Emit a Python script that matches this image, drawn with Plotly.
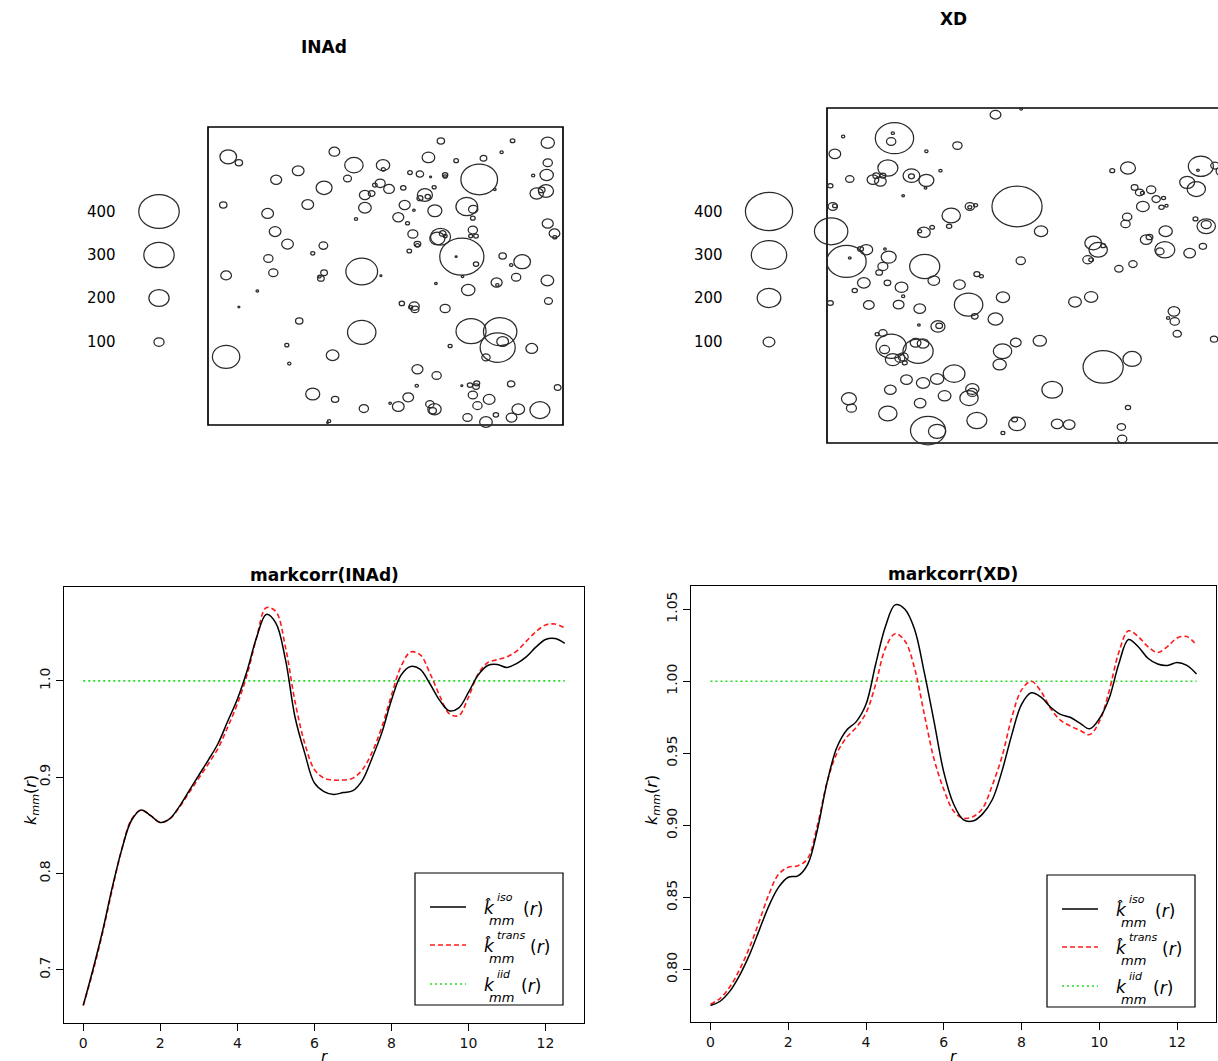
import plotly.graph_objects as go

FIG_W, FIG_H = 1218, 1061

# ---------------------------------------------------------------- data
# distance grid of the mark correlation estimates
r = [0, 0.25, 0.5, 0.75, 1.0, 1.25, 1.5, 1.75, 2.0, 2.25, 2.5, 2.75, 3.0, 3.25, 3.5, 3.75,
     4.0, 4.25, 4.5, 4.75, 5.0, 5.25, 5.5, 5.75, 6.0, 6.25, 6.5, 6.75, 7.0, 7.25, 7.5, 7.75,
     8.0, 8.25, 8.5, 8.75, 9.0, 9.25, 9.5, 9.75, 10.0, 10.25, 10.5, 10.75, 11.0, 11.25, 11.5,
     11.75, 12.0, 12.25, 12.5]

inad_iso = [0.663, 0.700, 0.740, 0.785, 0.825, 0.855, 0.866, 0.860, 0.853, 0.857, 0.870, 0.886, 0.902, 0.918, 0.935, 0.958,
            0.981, 1.010, 1.045, 1.069, 1.060, 1.022, 0.962, 0.925, 0.894, 0.885, 0.882, 0.884, 0.886, 0.897, 0.920, 0.946,
            0.980, 1.006, 1.015, 1.012, 0.997, 0.980, 0.969, 0.972, 0.988, 1.006, 1.016, 1.017, 1.014, 1.018, 1.025,
            1.035, 1.043, 1.044, 1.039]
inad_trans = [0.663, 0.698, 0.738, 0.783, 0.825, 0.856, 0.866, 0.860, 0.853, 0.857, 0.869, 0.884, 0.899, 0.914, 0.930, 0.952,
              0.976, 1.006, 1.045, 1.076, 1.072, 1.035, 0.978, 0.935, 0.908, 0.899, 0.897, 0.897, 0.899, 0.908, 0.926, 0.952,
              0.985, 1.015, 1.030, 1.027, 1.008, 0.985, 0.966, 0.964, 0.983, 1.007, 1.019, 1.022, 1.025, 1.031, 1.041,
              1.051, 1.058, 1.059, 1.055]
xd_iso = [0.775, 0.778, 0.785, 0.796, 0.810, 0.827, 0.844, 0.857, 0.864, 0.865, 0.873, 0.897, 0.930, 0.954, 0.966, 0.972,
          0.984, 1.012, 1.038, 1.053, 1.050, 1.036, 1.006, 0.972, 0.937, 0.915, 0.904, 0.903, 0.908, 0.918, 0.938, 0.963,
          0.984, 0.992, 0.989, 0.982, 0.977, 0.975, 0.971, 0.967, 0.974, 0.988, 1.012, 1.029, 1.024, 1.016, 1.012,
          1.011, 1.013, 1.011, 1.005]
xd_trans = [0.776, 0.780, 0.788, 0.800, 0.815, 0.833, 0.852, 0.866, 0.871, 0.872, 0.877, 0.900, 0.930, 0.950, 0.961, 0.968,
            0.978, 0.998, 1.023, 1.033, 1.028, 1.009, 0.977, 0.946, 0.925, 0.910, 0.905, 0.906, 0.912, 0.928, 0.948, 0.975,
            0.994, 1.000, 0.993, 0.981, 0.973, 0.969, 0.966, 0.963, 0.972, 0.993, 1.020, 1.035, 1.031, 1.024, 1.020,
            1.024, 1.030, 1.031, 1.025]
k_iid = 1.0

# marked point patterns (window is [0,100] x [0,100]); marks scale the circles
inad_x = [5.7, 8.7, 35.6, 65.6, 85.8, 95.7, 82.7, 62.1, 77.6, 69.9, 41.1, 49.3, 49.4, 25.4, 95.7, 95.4, 56.9, 59.7,
          66.8, 66.8, 76.4, 80.8, 19.2, 39.3, 32.7, 48.5, 47.0, 51.0, 55.0, 63.7, 62.7, 92.6, 95.2, 94.0, 91.6, 44.2,
          46.1, 61.1, 59.7, 61.9, 4.3, 28.1, 44.2, 55.4, 63.9, 72.9, 74.7, 16.8, 53.6, 74.6, 41.7, 58.0, 56.2, 95.7,
          97.6, 97.7, 18.9, 57.7, 65.5, 64.6, 66.1, 66.8, 74.6, 75.5, 74.0, 59.0, 59.0, 22.4, 32.5, 56.7, 71.5, 69.9,
          29.5, 17.0, 83.0, 88.5, 75.5, 85.4, 43.3, 48.7, 18.4, 32.7, 31.8, 31.4, 5.1, 86.8, 81.3, 81.5, 95.6, 64.2,
          71.7, 73.3, 13.9, 95.9, 8.7, 54.6, 58.1, 58.3, 57.1, 66.8, 25.7, 43.3, 74.1, 82.3, 81.6, 83.0, 22.2, 68.2,
          91.2, 5.1, 35.1, 78.3, 22.9, 59.0, 64.4, 58.8, 71.5, 73.8, 75.7, 75.5, 74.6, 85.4, 98.5, 29.5, 35.8, 56.4,
          53.6, 51.3, 62.5, 63.8, 63.3, 43.9, 75.9, 79.2, 87.4, 93.5, 73.1, 78.3, 81.1, 85.5, 34.1, 33.7]
inad_y = [90.0, 88.0, 91.7, 95.3, 95.4, 94.7, 91.5, 89.8, 89.5, 88.7, 87.2, 87.2, 85.8, 85.3, 88.0, 83.9, 84.7, 84.2,
          83.9, 83.4, 82.4, 79.0, 82.3, 82.7, 79.6, 81.1, 80.5, 79.2, 79.6, 79.8, 83.2, 77.7, 78.5, 78.9, 83.7, 77.2,
          77.7, 77.2, 76.1, 76.6, 73.8, 74.0, 72.9, 73.8, 71.9, 73.3, 72.4, 71.0, 69.7, 69.4, 69.1, 72.1, 67.7, 67.6,
          64.3, 63.0, 64.9, 64.1, 63.2, 62.6, 64.3, 63.4, 65.4, 63.4, 63.4, 60.7, 60.3, 60.7, 60.2, 58.4, 56.5, 56.5,
          57.6, 55.9, 56.7, 54.8, 54.0, 53.7, 51.5, 50.1, 51.1, 51.1, 49.2, 49.8, 50.2, 49.6, 47.8, 47.0, 48.5, 47.5,
          49.8, 45.3, 45.0, 41.6, 39.6, 40.8, 39.9, 38.8, 39.5, 39.1, 34.9, 31.1, 31.5, 31.3, 26.0, 28.0, 26.8, 26.5,
          25.7, 22.9, 23.4, 22.7, 20.6, 18.7, 16.6, 13.2, 13.2, 13.4, 14.0, 12.9, 10.1, 13.8, 12.6, 10.4, 8.6, 9.3,
          6.2, 7.3, 7.0, 5.3, 4.8, 5.5, 6.5, 8.6, 5.3, 5.0, 2.5, 1.0, 3.4, 2.5, 1.3, 0.8]
inad_m = [165, 73, 106, 73, 46, 132, 33, 125, 66, 46, 182, 132, 40, 116, 92, 132, 46, 73,
          53, 40, 363, 26, 109, 79, 158, 99, 46, 106, 53, 40, 20, 132, 149, 66, 33, 109,
          66, 149, 59, 53, 73, 116, 125, 109, 139, 215, 92, 116, 109, 46, 33, 26, 40, 109,
          106, 40, 116, 99, 198, 149, 66, 40, 92, 46, 40, 66, 40, 116, 86, 46, 436, 20,
          40, 92, 73, 165, 53, 33, 314, 20, 92, 66, 66, 33, 106, 92, 109, 33, 125, 26,
          26, 132, 26, 79, 20, 53, 99, 79, 40, 99, 73, 281, 297, 330, 347, 116, 40, 40,
          116, 271, 125, 83, 33, 109, 92, 33, 20, 53, 59, 66, 92, 73, 66, 139, 73, 106,
          116, 26, 83, 132, 73, 92, 92, 116, 125, 198, 92, 125, 53, 106, 33, 20]

xd_x = [40.7, 46.9, 16.3, 15.5, 15.9, 3.9, 1.9, 24.0, 31.5, 14.7, 11.1, 12.9, 11.9, 13.5, 5.5, 20.4, 20.4, 24.0,
        27.4, 0.8, 23.8, 18.4, 1.4, 1.9, 1.0, 4.7, 5.5, 9.5, 8.1, 14.0, 14.9, 13.5, 12.6, 8.9, 6.7, 14.6,
        18.0, 18.4, 0.8, 10.1, 17.3, 22.4, 23.6, 25.8, 30.0, 29.5, 23.4, 22.4, 25.4, 34.5, 35.9, 34.5, 45.9, 51.7,
        46.8, 32.0, 36.2, 37.3, 42.5, 34.2, 35.7, 40.7, 26.8, 27.1, 22.2, 13.5, 15.5, 22.0, 21.4, 23.2, 13.9, 18.4,
        17.6, 18.8, 15.9, 12.1, 19.2, 23.2, 26.6, 30.7, 15.3, 28.4, 22.5, 35.1, 34.3, 35.1, 5.3, 5.9, 14.7, 36.2,
        24.4, 26.6, 42.5, 45.9, 45.3, 55.6, 58.5, 42.4, 45.6, 41.7, 51.4, 54.4, 66.7, 73.7, 72.7, 71.1, 71.3, 59.9,
        63.8, 83.8, 84.0, 82.4, 84.6, 93.5, 64.3, 65.5, 66.7, 63.0, 63.8, 70.5, 73.9, 68.9, 72.7, 74.3, 75.5, 78.3,
        76.2, 79.5, 81.3, 76.3, 80.8, 82.0, 72.5, 72.1, 81.8, 77.1, 77.9, 81.6, 80.4, 87.6, 90.8, 87.0, 89.2, 90.3,
        89.6, 93.7, 91.6, 91.6, 89.0, 95.2]
xd_y = [98.0, 99.7, 91.0, 90.0, 92.5, 91.5, 86.3, 87.1, 88.8, 82.1, 78.6, 78.1, 79.8, 79.8, 78.8, 79.8, 79.6, 78.4,
        81.3, 76.8, 76.1, 73.8, 70.6, 70.8, 63.2, 54.2, 55.2, 57.7, 57.9, 57.9, 55.5, 52.7, 50.9, 47.8, 45.5, 47.8,
        46.5, 43.8, 41.8, 41.2, 41.3, 40.1, 52.7, 48.5, 67.9, 64.7, 62.9, 63.2, 64.4, 70.6, 71.0, 70.4, 70.6, 63.2,
        54.4, 47.3, 50.4, 49.8, 43.5, 41.3, 37.8, 37.0, 34.8, 35.0, 35.2, 32.8, 28.9, 27.4, 29.9, 29.7, 27.9, 25.7,
        25.3, 23.9, 24.9, 32.5, 18.9, 17.9, 19.1, 20.7, 15.9, 14.1, 11.9, 16.1, 13.4, 15.1, 13.2, 10.4, 8.8, 6.7,
        3.7, 3.5, 3.0, 5.7, 7.0, 5.7, 5.5, 27.4, 30.0, 23.4, 30.5, 15.9, 22.7, 25.1, 10.6, 4.8, 1.2, 42.1,
        43.6, 39.3, 36.3, 37.3, 32.6, 31.0, 59.7, 57.7, 58.9, 54.7, 54.7, 52.0, 53.4, 81.3, 82.1, 76.3, 74.8, 75.6,
        74.6, 72.8, 73.1, 70.6, 70.4, 70.8, 67.5, 65.4, 63.2, 60.7, 61.5, 57.7, 57.2, 56.7, 58.7, 77.8, 75.8, 82.6,
        81.4, 82.8, 64.7, 65.2, 66.9, 81.1]
xd_m = [91, 23, 325, 79, 28, 28, 99, 28, 79, 170, 99, 99, 57, 51, 71, 142, 51, 127,
        28, 45, 23, 23, 79, 40, 283, 334, 23, 108, 51, 23, 127, 85, 57, 108, 45, 57,
        108, 28, 51, 91, 91, 99, 255, 99, 156, 45, 108, 34, 40, 79, 34, 34, 425, 113,
        79, 99, 51, 34, 113, 241, 57, 127, 119, 57, 23, 71, 255, 255, 91, 99, 85, 85,
        85, 42, 127, 34, 99, 113, 113, 184, 99, 108, 99, 113, 156, 85, 127, 85, 156, 170,
        297, 147, 34, 142, 51, 99, 99, 156, 91, 113, 113, 175, 340, 156, 45, 71, 79, 108,
        113, 99, 79, 28, 71, 62, 142, 156, 42, 85, 40, 71, 71, 42, 127, 57, 71, 79,
        34, 71, 34, 108, 45, 28, 79, 79, 113, 99, 57, 170, 71, 99, 62, 127, 156, 212,
        23, 71, 156, 85, 42, 85]

legend_marks = [400, 300, 200, 100]

# ---------------------------------------------------------------- helpers
FONT = "DejaVu Sans"
MARK_TO_DIAM = 0.0285       # circle diameter in window units per unit of mark
INK = "#2a2a2a"
RED = "#ff1a1a"
GREEN = "#22dd22"


def fx(p):
    return p / FIG_W


def fy(p):
    return 1 - p / FIG_H


fig = go.Figure()
shapes = []
annotations = []


def text(x, y, s, size=14, xanchor="center", yanchor="middle", angle=0, color="black", bold=False):
    annotations.append(dict(
        x=fx(x), y=fy(y), xref="paper", yref="paper", text=s, showarrow=False,
        xanchor=xanchor, yanchor=yanchor, textangle=angle,
        font=dict(family=FONT, size=size, color=color, weight="bold" if bold else "normal")))


# ---------------------------------------------------------------- point pattern panels
def pattern_panel(ax, xs, ys, ms, frame_left, frame_top, frame_bottom, ux, dom_x, dom_y,
                  key_cx, key_label_x, key_cy):
    uy = (frame_bottom - frame_top) / 100.0
    fig.layout["xaxis" + ax] = dict(domain=[fx(dom_x[0]), fx(dom_x[1])],
                                    range=[(dom_x[0] - frame_left) / ux, (dom_x[1] - frame_left) / ux],
                                    visible=False, anchor="y" + ax, fixedrange=True)
    fig.layout["yaxis" + ax] = dict(domain=[fy(dom_y[1]), fy(dom_y[0])],
                                    range=[(frame_bottom - dom_y[1]) / uy, (frame_bottom - dom_y[0]) / uy],
                                    visible=False, anchor="x" + ax, fixedrange=True)
    fig.add_trace(go.Scatter(x=xs, y=ys, mode="markers", marker=dict(opacity=0, size=1),
                             hoverinfo="skip", showlegend=False, xaxis="x" + ax, yaxis="y" + ax))
    # observation window
    shapes.append(dict(type="rect", xref="x" + ax, yref="y" + ax, x0=0, x1=100, y0=0, y1=100,
                       line=dict(color="black", width=1.7)))
    for x, y, m in zip(xs, ys, ms):
        d = m * MARK_TO_DIAM
        shapes.append(dict(type="circle", xref="x" + ax, yref="y" + ax,
                           x0=x - d / 2, x1=x + d / 2, y0=y - d / 2, y1=y + d / 2,
                           line=dict(color=INK, width=1.25)))
    # mark size key
    kx = (key_cx - frame_left) / ux
    for m, cy in zip(legend_marks, key_cy):
        d = m * MARK_TO_DIAM
        ky = (frame_bottom - cy) / uy
        shapes.append(dict(type="circle", xref="x" + ax, yref="y" + ax,
                           x0=kx - d / 2, x1=kx + d / 2, y0=ky - d / 2, y1=ky + d / 2,
                           line=dict(color=INK, width=1.25)))
        text(key_label_x, cy, str(m), size=15)


key_rows = [211.5, 255, 298, 342]
pattern_panel("3", inad_x, inad_y, inad_m, 208, 127, 425, 3.55, (30, 600), (90, 460),
              159, 101.5, key_rows)
pattern_panel("4", xd_x, xd_y, xd_m, 827, 108, 443, 4.14, (640, 1218), (85, 470),
              769, 708, key_rows)
text(324, 47, "INAd", size=17, bold=True)
text(953, 19, "XD", size=17, bold=True)


# ---------------------------------------------------------------- mark correlation panels
def add_curves(ax, iso, trans):
    fig.add_trace(go.Scatter(x=[r[0], r[-1]], y=[k_iid, k_iid], mode="lines",
                             line=dict(color=GREEN, width=1.6, dash="2px,3px"),
                             showlegend=False, hoverinfo="skip", xaxis="x" + ax, yaxis="y" + ax))
    fig.add_trace(go.Scatter(x=r, y=trans, mode="lines", line_shape="spline",
                             line=dict(color=RED, width=1.6, dash="5px,3px"),
                             showlegend=False, hoverinfo="skip", xaxis="x" + ax, yaxis="y" + ax))
    fig.add_trace(go.Scatter(x=r, y=iso, mode="lines", line_shape="spline",
                             line=dict(color="black", width=1.5),
                             showlegend=False, hoverinfo="skip", xaxis="x" + ax, yaxis="y" + ax))


add_curves("", inad_iso, inad_trans)
add_curves("2", xd_iso, xd_trans)

axis_common = dict(showline=True, mirror=True, linecolor="black", linewidth=1.2,
                   ticks="outside", ticklen=7, tickwidth=1.2, tickcolor="black",
                   showgrid=False, zeroline=False, fixedrange=True,
                   tickfont=dict(family=FONT, size=14, color="#111"))

fig.layout.xaxis = dict(domain=[fx(64), fx(584)], range=[-0.5, 13.0], tickvals=[0, 2, 4, 6, 8, 10, 12],
                        anchor="y", **axis_common)
fig.layout.yaxis = dict(domain=[fy(1023), fy(587)], range=[0.6447, 1.0975],
                        tickvals=[0.7, 0.8, 0.9, 1.0], ticktext=["0.7", "0.8", "0.9", "1.0"],
                        tickangle=-90, anchor="x", **axis_common)
fig.layout.xaxis2 = dict(domain=[fx(691), fx(1216)], range=[-0.5, 13.0], tickvals=[0, 2, 4, 6, 8, 10, 12],
                         anchor="y2", **axis_common)
fig.layout.yaxis2 = dict(domain=[fy(1022), fy(586)], range=[0.7636, 1.0661],
                         tickvals=[0.80, 0.85, 0.90, 0.95, 1.00, 1.05],
                         ticktext=["0.80", "0.85", "0.90", "0.95", "1.00", "1.05"],
                         tickangle=-90, anchor="x2", **axis_common)

text(324, 575, "markcorr(INAd)", size=17, bold=True)
text(953, 574, "markcorr(XD)", size=17, bold=True)
text(324, 1046, "<i>r</i>", size=15, yanchor="top")
text(953, 1046, "<i>r</i>", size=15, yanchor="top")
ylab = "<i>k<sub>mm</sub></i>(<i>r</i>)"
text(31, 800, ylab, size=16, angle=-90)
text(652, 800, ylab, size=16, angle=-90)


# ---------------------------------------------------------------- curve keys
def curve_key(bx, by):
    shapes.append(dict(type="rect", xref="paper", yref="paper",
                       x0=fx(bx), x1=fx(bx + 148), y0=fy(by + 132), y1=fy(by),
                       line=dict(color="black", width=1.2), fillcolor="white"))
    rows = [
        (34, dict(color="black", width=1.5), "iso", "<i>k\u0302</i>", 106),
        (72, dict(color=RED, width=1.5, dash="5px,3px"), "trans", "<i>k\u0302</i>", 113),
        (111, dict(color=GREEN, width=1.6, dash="2px,3px"), "iid", "<i>k</i>", 104),
    ]
    for dy, line, sup, kk, rx in rows:
        shapes.append(dict(type="line", xref="paper", yref="paper",
                           x0=fx(bx + 15), x1=fx(bx + 51), y0=fy(by + dy), y1=fy(by + dy), line=line))
        text(bx + 74, by + dy + 1, kk, size=17)
        text(bx + 80, by + dy - 10, "<i>" + sup + "</i>", size=11, xanchor="left")
        text(bx + 72, by + dy + 13, "<i>mm</i>", size=13, xanchor="left")
        text(bx + rx, by + dy + 2, "(<i>r</i>)", size=17, xanchor="left")


curve_key(415, 873)
curve_key(1047, 875)

fig.update_layout(width=FIG_W, height=FIG_H, margin=dict(l=0, r=0, t=0, b=0),
                  paper_bgcolor="white", plot_bgcolor="white", showlegend=False,
                  shapes=shapes, annotations=annotations)

fig.write_html("out.html")
